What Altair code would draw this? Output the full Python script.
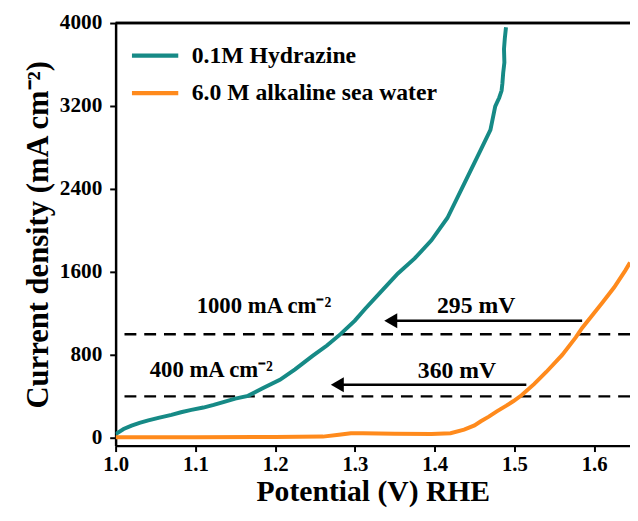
import altair as alt
import pandas as pd

# ---- data ----
hyd_x = [1.000, 1.010, 1.020, 1.030, 1.041, 1.055, 1.070, 1.082, 1.095, 1.110,
         1.123, 1.135, 1.150, 1.166, 1.185, 1.206, 1.225, 1.247, 1.265, 1.282,
         1.300, 1.313, 1.334, 1.354, 1.375, 1.396, 1.416, 1.437, 1.458, 1.470,
         1.476, 1.478, 1.481, 1.484, 1.485, 1.486, 1.4875, 1.487, 1.488, 1.4895]
hyd_y = [35, 85, 118, 145, 168, 195, 222, 247, 270, 292,
         317, 345, 378, 405, 480, 560, 660, 790, 890, 1000,
         1130, 1245, 1420, 1585, 1730, 1905, 2120, 2448, 2780, 2970,
         3197, 3230, 3280, 3349, 3420, 3520, 3620, 3750, 3850, 3960]

sea_x = [1.000, 1.100, 1.200, 1.260, 1.280, 1.295, 1.310, 1.350, 1.396, 1.420,
         1.437, 1.450, 1.458, 1.468, 1.478, 1.490, 1.499, 1.509, 1.525, 1.540,
         1.560, 1.577, 1.585, 1.597, 1.610, 1.625, 1.639, 1.645]
sea_y = [5, 5, 8, 12, 30, 45, 45, 40, 38, 45,
         79, 120, 160, 205, 255, 310, 355, 410, 520, 635,
         800, 968, 1060, 1175, 1300, 1450, 1613, 1690]

series_names = ["0.1M Hydrazine", "6.0 M alkaline sea water"]
series_colors = ["#168a86", "#ff8a1c"]

ref_levels = [1000, 400]
ref_labels = ["1000 mA cm\u207b\u00b2", "400 mA cm\u207b\u00b2"]
ref_label_x = [1.186, 1.12]
ref_label_y = [1267, 655]

arrow_start = [1.585, 1.515]
arrow_head = [1.345, 1.278]
arrow_y = [1130, 512]
arrow_text = ["295 mV", "360 mV"]
arrow_text_x = [1.452, 1.428]
arrow_text_y = [1270, 648]

x_ticks = [1.0, 1.1, 1.2, 1.3, 1.4, 1.5, 1.6]
y_ticks = [0, 800, 1600, 2400, 3200, 4000]

# ---- tables ----
rows = []
for i, (x, y) in enumerate(zip(hyd_x, hyd_y)):
    rows.append({"x": x, "y": y, "s": series_names[0], "i": i})
for i, (x, y) in enumerate(zip(sea_x, sea_y)):
    rows.append({"x": x, "y": y, "s": series_names[1], "i": i})
curves = pd.DataFrame(rows)

refs = pd.DataFrame({"y": ref_levels, "label": ref_labels, "lx": ref_label_x, "ly": ref_label_y})
arrows = pd.DataFrame({"x": arrow_start, "x2": arrow_head, "y": arrow_y,
                       "t": arrow_text, "tx": arrow_text_x, "ty": arrow_text_y})

FONT = "Liberation Serif"
W, H = 521, 428
XD = [1.0, 1.645]
YD = [-75, 4000]

xs = alt.Scale(domain=XD, nice=False, zero=False)
ys = alt.Scale(domain=YD, nice=False, zero=False)

lines = alt.Chart(curves).mark_line(strokeWidth=4, clip=True).encode(
    x=alt.X("x:Q", scale=xs,
            axis=alt.Axis(values=x_ticks, format=".1f", title="Potential (V) RHE")),
    y=alt.Y("y:Q", scale=ys,
            axis=alt.Axis(values=y_ticks, format="d", title="Current density (mA cm\u207b\u00b2)")),
    color=alt.Color("s:N", scale=alt.Scale(domain=series_names, range=series_colors),
                    sort=series_names,
                    legend=alt.Legend(orient="none", legendX=14, legendY=7, title=None,
                                      symbolType="stroke", symbolStrokeWidth=4.5,
                                      symbolSize=2200, labelFont=FONT, labelFontWeight="bold",
                                      labelFontSize=24, labelColor="black", labelLimit=0,
                                      rowPadding=-25, labelOffset=11)),
    order=alt.Order("i:Q"),
)

dash = alt.Chart(refs).mark_rule(color="black", strokeWidth=2.5, strokeDash=[12, 8]).encode(
    y=alt.Y("y:Q", scale=ys)
)
ref_txt = alt.Chart(refs).mark_text(font=FONT, fontWeight="bold", fontSize=23, color="black").encode(
    x=alt.X("lx:Q", scale=xs), y=alt.Y("ly:Q", scale=ys), text="label:N"
)

arr_line = alt.Chart(arrows).mark_rule(color="black", strokeWidth=2.5).encode(
    x=alt.X("x:Q", scale=xs), x2="x2:Q", y=alt.Y("y:Q", scale=ys)
)
arr_head = alt.Chart(arrows).mark_point(shape="triangle-left", filled=True, color="black",
                                       size=230, opacity=1).encode(
    x=alt.X("x2:Q", scale=xs), y=alt.Y("y:Q", scale=ys)
)
arr_txt = alt.Chart(arrows).mark_text(font=FONT, fontWeight="bold", fontSize=24, color="black").encode(
    x=alt.X("tx:Q", scale=xs), y=alt.Y("ty:Q", scale=ys), text="t:N"
)

top_border = alt.Chart(refs).mark_rule(color="black", strokeWidth=2.5).encode(
    x=alt.value(0), x2=alt.value(W), y=alt.value(0)
)

chart = alt.layer(dash, lines, ref_txt, arr_line, arr_head, arr_txt, top_border).properties(
    width=W, height=H,
    autosize=alt.AutoSizeParams(type="none"),
    padding={"left": 109, "top": 12, "right": 0, "bottom": 65},
).configure_view(stroke=None).configure_axis(
    grid=False,
    domainColor="black", domainWidth=2.5,
    tickColor="black", tickWidth=2, tickSize=6,
    labelFont=FONT, labelFontWeight="bold", labelFontSize=21.5, labelColor="black",
    titleFont=FONT, titleFontWeight="bold", titleColor="black",
).configure_axisX(titleFontSize=30, titlePadding=3, labelPadding=2, labelFontSize=21,
                  labelFlush=False).configure_axisY(
    titleFontSize=31, titlePadding=5, labelPadding=8, labelFlush=False)

chart.save("out.html", embed_options={"renderer": "svg", "actions": False})
